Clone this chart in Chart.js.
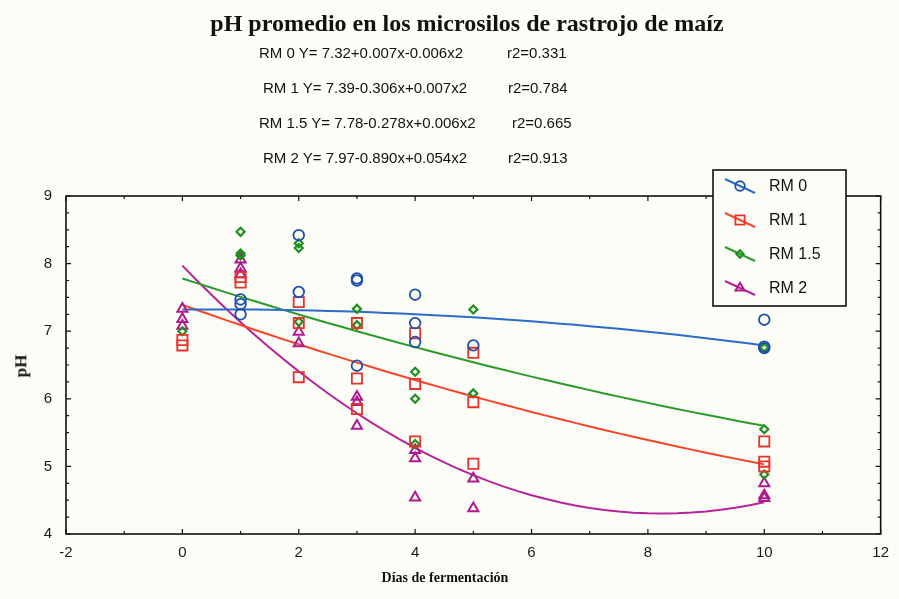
<!DOCTYPE html>
<html><head><meta charset="utf-8">
<script src="https://cdn.jsdelivr.net/npm/chart.js@4.4.1/dist/chart.umd.min.js"></script>
<style>
body{margin:0;background:#fdfdf8;}
#wrap{position:relative;width:899px;height:599px;background:#fdfdf8;overflow:hidden;}
canvas{position:absolute;left:0;top:0;}
.t{position:absolute;white-space:nowrap;color:#111;line-height:1;}
#title{font:bold 24px "Liberation Serif","Times New Roman",serif;left:0;width:934px;text-align:center;top:10px;}
.eq{font:15px "Liberation Sans",Arial,sans-serif;}
#xt{font:bold 14px "Liberation Serif",serif;left:0;width:890px;text-align:center;top:570px;}
#yt{font:bold 17px "Liberation Serif",serif;left:10px;top:356px;transform:rotate(-90deg);}
</style></head>
<body><div id="wrap">
<canvas id="c" width="899" height="599"></canvas>
<div class="t" id="title">pH promedio en los microsilos de rastrojo de maíz</div>
<div class="t eq" style="left:259px;top:44px">RM 0 Y= 7.32+0.007x-0.006x2</div><div class="t eq" style="left:507px;top:44px">r2=0.331</div>
<div class="t eq" style="left:263px;top:79px">RM 1 Y= 7.39-0.306x+0.007x2</div><div class="t eq" style="left:508px;top:79px">r2=0.784</div>
<div class="t eq" style="left:259px;top:114px">RM 1.5 Y= 7.78-0.278x+0.006x2</div><div class="t eq" style="left:512px;top:114px">r2=0.665</div>
<div class="t eq" style="left:263px;top:149px">RM 2 Y= 7.97-0.890x+0.054x2</div><div class="t eq" style="left:508px;top:149px">r2=0.913</div>
<div class="t" id="xt">Días de fermentación</div>
<div class="t" id="yt">pH</div>
</div>
<script>
// ---- data ----
const seriesNames = ['RM 0','RM 1','RM 1.5','RM 2'];
const rm0Days = [1,1,1,2,2,3,3,3,4,4,4,5,10,10,10];
const rm0PH   = [7.47,7.40,7.25,8.42,7.58,7.78,7.75,6.49,7.54,7.12,6.84,6.79,7.17,6.77,6.75];
const rm1Days = [0,0,1,1,2,2,2,3,3,3,4,4,4,5,5,5,10,10,10];
const rm1PH   = [6.87,6.79,7.80,7.72,7.43,7.12,6.32,7.12,6.30,5.85,6.97,6.22,5.37,6.68,5.95,5.04,5.37,5.07,5.00];
const rm15Days = [0,1,1,1,2,2,2,3,3,4,4,4,5,5,10,10,10];
const rm15PH   = [7.00,8.47,8.15,8.12,8.30,8.23,7.14,7.33,7.09,6.40,6.00,5.33,7.32,6.08,6.76,5.55,4.88];
const rm2Days = [0,0,0,1,1,1,2,2,3,3,3,4,4,4,5,5,10,10,10];
const rm2PH   = [7.33,7.18,7.08,8.06,7.93,7.84,6.99,6.82,6.03,5.95,5.60,5.24,5.12,4.54,4.82,4.38,4.75,4.57,4.53];
// regression coefficients printed on the chart: Y = a + b x + c x^2
const fitA = [7.32, 7.39, 7.78, 7.97];
const fitB = [0.007, -0.306, -0.278, -0.890];
const fitC = [-0.006, 0.007, 0.006, 0.054];
const fitFrom = 0, fitTo = 10;
const xTicks = [-2,0,2,4,6,8,10,12];
const yTicks = [4,5,6,7,8,9];

const lineColors = ['#2b6cc8','#f5452a','#2a9a2a','#b8229a'];
const markColors = ['#1d4fae','#e8322a','#1f8f1f','#b01a8e'];
const styles = ['circle','rect','rectRot','triangle'];
const radii = [5.3,7.2,4,5.8];
const widths = [1.8,1.8,2.2,2];

const pts = (xs,ys)=>xs.map((x,i)=>({x:x,y:ys[i]}));
const groups = [pts(rm0Days,rm0PH),pts(rm1Days,rm1PH),pts(rm15Days,rm15PH),pts(rm2Days,rm2PH)];
const fitCurve = i => { const out=[]; for(let k=0;k<=40;k++){ const x=fitFrom+(fitTo-fitFrom)*k/40; out.push({x:x,y:fitA[i]+fitB[i]*x+fitC[i]*x*x}); } return out; };

const datasets = [];
groups.forEach((g,i)=>datasets.push({label:seriesNames[i],data:g,pointStyle:styles[i],pointRadius:radii[i],
  pointBorderWidth:widths[i],borderColor:markColors[i],backgroundColor:'rgba(0,0,0,0)',showLine:false}));
groups.forEach((g,i)=>datasets.push({label:seriesNames[i]+' fit',data:fitCurve(i),showLine:true,pointRadius:0,
  borderColor:lineColors[i],borderWidth:2,fill:false,tension:0}));

const deco = {
  id:'deco',
  afterDraw(chart){
    const c=chart.ctx, a=chart.chartArea, sx=chart.scales.x, sy=chart.scales.y;
    c.save();
    c.strokeStyle='#111'; c.lineWidth=1.6;
    c.strokeRect(a.left,a.top,a.right-a.left,a.bottom-a.top);
    c.lineWidth=1.2;
    for(let v=4; v<=9.001; v+=0.25){
      const y=sy.getPixelForValue(v); const len=Math.abs(v-Math.round(v))<1e-6?5:3;
      c.beginPath(); c.moveTo(a.left,y); c.lineTo(a.left+len,y); c.moveTo(a.right,y); c.lineTo(a.right-len,y); c.stroke();
    }
    for(let v=-2; v<=12; v+=1){
      const x=sx.getPixelForValue(v); const len=v%2===0?5:3;
      c.beginPath(); c.moveTo(x,a.bottom); c.lineTo(x,a.bottom-len); c.moveTo(x,a.top); c.lineTo(x,a.top+len); c.stroke();
    }
    // legend
    const L=713,T=170,W=133,H=136;
    c.fillStyle='#fdfdf8'; c.fillRect(L,T,W,H);
    c.strokeStyle='#111'; c.lineWidth=1.6; c.strokeRect(L,T,W,H);
    const rows=[186,220,254,288];
    c.font='16px "Liberation Sans", Arial, sans-serif'; c.textBaseline='middle';
    rows.forEach((cy,i)=>{
      c.strokeStyle=lineColors[i]; c.lineWidth=2;
      c.beginPath(); c.moveTo(725,cy-7); c.lineTo(755,cy+7); c.stroke();
      c.strokeStyle=markColors[i]; c.fillStyle='rgba(0,0,0,0)'; c.lineWidth=widths[i];
      Chart.helpers.drawPoint(c,{pointStyle:styles[i],radius:radii[i]*0.9,rotation:0,borderWidth:widths[i]},740,cy);
      c.fillStyle='#111'; c.fillText(seriesNames[i],769,cy+1);
    });
    c.restore();
  }
};

new Chart(document.getElementById('c'),{
  type:'scatter',
  data:{datasets:datasets},
  options:{
    animation:false,responsive:false,devicePixelRatio:1,
    layout:{padding:{top:196,right:16,left:0,bottom:0}},
    plugins:{legend:{display:false},tooltip:{enabled:false},title:{display:false}},
    scales:{
      x:{type:'linear',min:-2,max:12,
        afterBuildTicks(s){s.ticks=xTicks.map(v=>({value:v}));},
        ticks:{font:{family:'"Liberation Sans", Arial, sans-serif',size:15},color:'#1a1a1a',padding:10,maxRotation:0,autoSkip:false},
        grid:{display:false,drawTicks:false},border:{display:false},
        afterFit(s){s.height=65;}},
      y:{type:'linear',min:4,max:9,
        afterBuildTicks(s){s.ticks=yTicks.map(v=>({value:v}));},
        ticks:{font:{family:'"Liberation Sans", Arial, sans-serif',size:15},color:'#1a1a1a',padding:14},
        grid:{display:false,drawTicks:false},border:{display:false},
        afterFit(s){s.width=66;}}
    }
  },
  plugins:[deco]
});
</script>
</body></html>
